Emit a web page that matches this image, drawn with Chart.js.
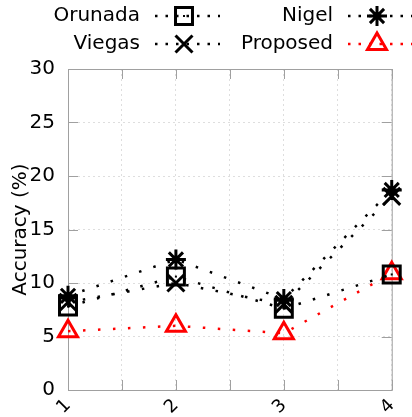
<!DOCTYPE html>
<html>
<head>
<meta charset="utf-8">
<script src="https://cdn.jsdelivr.net/npm/chart.js@4"></script>
<style>
html,body{margin:0;padding:0;background:#fff;}
#wrap{width:412px;height:417px;position:relative;}
</style>
</head>
<body>
<div id="wrap"><canvas id="c" width="412" height="417"></canvas></div>
<script>
const xValues = [1, 2, 3, 4];
const orunada = [7.8, 10.6, 7.6, 10.8];
const nigel = [8.8, 12.2, 8.5, 18.7];
const viegas = [8.2, 10.0, 8.0, 18.1];
const proposed = [5.5, 6.0, 5.3, 10.9];
const yTicks = [0, 5, 10, 15, 20, 25, 30];
const seriesNames = ['Orunada', 'Viegas', 'Nigel', 'Proposed'];

const FONT = "'DejaVu Sans', sans-serif";
const pts = arr => arr.map((v, i) => ({x: xValues[i], y: v}));
const base = {
  showLine: true, fill: false, borderWidth: 2.5, borderDash: [2.5, 12.5],
  pointBorderWidth: 3, pointBackgroundColor: 'rgba(0,0,0,0)', clip: false, tension: 0
};
const datasets = [
  Object.assign({}, base, {label: seriesNames[0], data: pts(orunada), borderColor: '#000', pointBorderColor: '#000', pointStyle: 'rect', pointRadius: 12, legendCol: 0, legendRow: 0}),
  Object.assign({}, base, {label: seriesNames[1], data: pts(viegas), borderColor: '#000', pointBorderColor: '#000', pointStyle: 'crossRot', pointRadius: 12, legendCol: 0, legendRow: 1}),
  Object.assign({}, base, {label: seriesNames[2], data: pts(nigel), borderColor: '#000', pointBorderColor: '#000', pointStyle: 'star', pointRadius: 10, legendCol: 1, legendRow: 0}),
  Object.assign({}, base, {label: seriesNames[3], data: pts(proposed), borderColor: '#f00', pointBorderColor: '#f00', pointStyle: 'triangle', pointRadius: 11, legendCol: 1, legendRow: 1})
];

const customLegend = {
  id: 'customLegend',
  afterDraw(chart) {
    const ctx = chart.ctx;
    const colText = [140, 333];
    const rowY = [16, 44];
    chart.data.datasets.forEach(ds => {
      const tx = colText[ds.legendCol], ty = rowY[ds.legendRow];
      ctx.save();
      ctx.font = '20px ' + FONT;
      ctx.fillStyle = '#000';
      ctx.textAlign = 'right';
      ctx.textBaseline = 'middle';
      ctx.fillText(ds.label, tx, ty);
      ctx.strokeStyle = ds.borderColor;
      ctx.lineWidth = 2.5;
      ctx.setLineDash([2.5, 8]);
      ctx.beginPath();
      ctx.moveTo(tx + 15, ty);
      ctx.lineTo(tx + 80, ty);
      ctx.stroke();
      ctx.setLineDash([]);
      ctx.strokeStyle = ds.borderColor; ctx.lineWidth = 3; ctx.fillStyle = 'rgba(0,0,0,0)';
      Chart.helpers.drawPoint(ctx, {pointStyle: ds.pointStyle, radius: ds.pointRadius, rotation: 0, borderWidth: 3}, tx + 44, ty);
      if (ds.pointStyle === 'rect') { ctx.fillStyle = ds.borderColor; ctx.fillRect(tx + 43, ty - 1, 2, 2); }
      ctx.restore();
    });
  }
};

const frame = {
  id: 'frame',
  beforeDatasetsDraw(chart) {
    const {ctx, chartArea: a, scales} = chart;
    ctx.save();
    ctx.strokeStyle = '#a0a0a0';
    ctx.lineWidth = 1;
    ctx.strokeRect(a.left + 0.5, a.top + 0.5, a.right - a.left, a.bottom - a.top);
    ctx.beginPath();
    yTicks.forEach(t => {
      const y = Math.round(scales.y.getPixelForValue(t)) + 0.5;
      ctx.moveTo(a.left, y); ctx.lineTo(a.left + 10, y);
      ctx.moveTo(a.right, y); ctx.lineTo(a.right - 10, y);
    });
    for (let v = 1; v <= 4; v += 0.5) {
      const x = Math.round(scales.x.getPixelForValue(v)) + 0.5;
      ctx.moveTo(x, a.bottom); ctx.lineTo(x, a.bottom - 10);
      ctx.moveTo(x, a.top); ctx.lineTo(x, a.top + 10);
    }
    ctx.stroke();
    ctx.restore();
  },
  afterDatasetsDraw(chart) {
    const ctx = chart.ctx;
    const meta = chart.getDatasetMeta(0);
    ctx.save();
    ctx.fillStyle = '#000';
    meta.data.forEach(p => ctx.fillRect(p.x - 1, p.y - 1, 2, 2));
    ctx.restore();
  }
};

new Chart(document.getElementById('c'), {
  type: 'scatter',
  data: {datasets},
  options: {
    responsive: false,
    animation: false,
    devicePixelRatio: 1,
    layout: {padding: {top: 69, right: 20, left: 0, bottom: 0}},
    plugins: {legend: {display: false}, tooltip: {enabled: false}},
    scales: {
      x: {
        type: 'linear', min: 1, max: 4,
        afterFit(s) { s.height = 27; },
        afterBuildTicks(s) { s.ticks = [1, 1.5, 2, 2.5, 3, 3.5, 4].map(v => ({value: v})); },
        grid: {color: 'rgba(0,0,0,0.13)', drawTicks: false},
        border: {display: false, dash: [2, 3]},
        ticks: {
          autoSkip: false, maxRotation: 45, minRotation: 45, padding: 5,
          color: '#000', font: {family: FONT, size: 18},
          callback: v => (Number.isInteger(v) ? String(v) : '')
        }
      },
      y: {
        min: 0, max: 30,
        afterFit(s) { s.width = 68; },
        afterBuildTicks(s) { s.ticks = yTicks.map(v => ({value: v})); },
        grid: {color: 'rgba(0,0,0,0.13)', drawTicks: false},
        border: {display: false, dash: [2, 3]},
        ticks: {padding: 13, color: '#000', font: {family: FONT, size: 20}},
        title: {display: true, text: 'Accuracy (%)', color: '#000', font: {family: FONT, size: 20}, padding: {top: 9, bottom: 0}}
      }
    }
  },
  plugins: [frame, customLegend]
});
</script>
</body>
</html>
